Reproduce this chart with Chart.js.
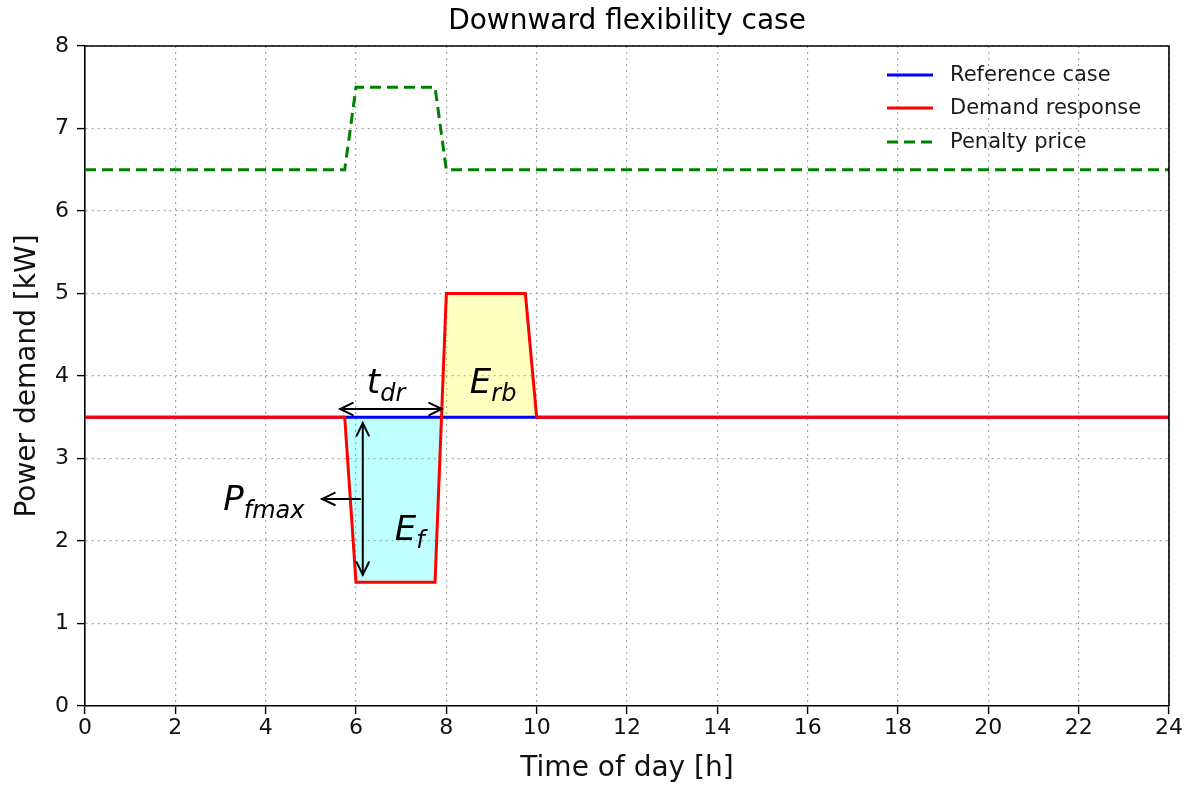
<!DOCTYPE html>
<html>
<head>
<meta charset="utf-8">
<title>Downward flexibility case</title>
<script src="https://cdn.jsdelivr.net/npm/chart.js@4.4.1/dist/chart.umd.min.js"></script>
<style>
    body { margin: 0; background: #ffffff; }
    #chartCanvas { display: block; }
</style>
</head>
<body>
<canvas id="chartCanvas" width="1186" height="786"></canvas>
<script>
// Time axis of the load profiles [h]
const hours = [0, 5.75, 6, 7.75, 8, 9.75, 10, 24];
// Baseline household demand [kW]
const referencePower = [3.5, 3.5, 3.5, 3.5, 3.5, 3.5, 3.5, 3.5];
// Demand after the downward activation and the rebound [kW]
const responsePower = [3.5, 3.5, 1.5, 1.5, 5, 5, 3.5, 3.5];
// Penalty price signal
const priceHours = [0, 5.75, 6, 7.75, 8, 24];
const penaltyPrice = [6.5, 6.5, 7.5, 7.5, 6.5, 6.5];

const seriesLabels = ['Reference case', 'Demand response', 'Penalty price'];
const xTickValues = [0, 2, 4, 6, 8, 10, 12, 14, 16, 18, 20, 22, 24];
const yTickValues = [0, 1, 2, 3, 4, 5, 6, 7, 8];

const FONT = '"DejaVu Sans", "Liberation Sans", sans-serif';

// Build {x, y} points from two arrays
function toPoints(xs, ys) {
    return xs.map((x, i) => ({ x: x, y: ys[i] }));
}

// Outline on the top and right edges of the plot area
const frameBox = {
    id: 'frameBox',
    afterDatasetsDraw(chart) {
        const { ctx, chartArea: a } = chart;
        ctx.save();
        ctx.strokeStyle = '#000';
        ctx.lineWidth = 1.6;
        ctx.beginPath();
        ctx.moveTo(a.left, a.top);
        ctx.lineTo(a.right, a.top);
        ctx.lineTo(a.right, a.bottom);
        ctx.stroke();
        ctx.restore();
    }
};

// Legend inside the upper right corner
const cornerLegend = {
    id: 'cornerLegend',
    afterDraw(chart) {
        const { ctx } = chart;
        const rows = [75, 108, 142];
        ctx.save();
        ctx.font = '21px ' + FONT;
        ctx.textBaseline = 'middle';
        ctx.textAlign = 'left';
        chart.data.datasets.forEach((ds, i) => {
            const y = rows[i];
            ctx.strokeStyle = ds.borderColor;
            ctx.lineWidth = 3;
            ctx.setLineDash(ds.borderDash || []);
            ctx.beginPath();
            ctx.moveTo(887, y);
            ctx.lineTo(933, y);
            ctx.stroke();
            ctx.setLineDash([]);
            ctx.fillStyle = '#1a1a1a';
            ctx.fillText(ds.label, 950, y + 1);
        });
        ctx.restore();
    }
};

// Arrow and label positions in data units
const tdrArrow = { x0: 5.65, x1: 7.9, y: 3.6 };
const pfArrow = { x: 6.15, y0: 3.43, y1: 1.59 };
const pfPointer = { x0: 6.09, x1: 5.25, y: 2.51 };
const mathLabels = [
    { x: 6.24, y: 3.79, main: 't', sub: 'dr' },
    { x: 8.52, y: 3.79, main: 'E', sub: 'rb' },
    { x: 6.86, y: 2.01, main: 'E', sub: 'f' },
    { x: 3.06, y: 2.38, main: 'P', sub: 'fmax' }
];

function arrowHead(ctx, x, y, angle) {
    const len = 14, spread = 0.45;
    ctx.beginPath();
    ctx.moveTo(x - len * Math.cos(angle - spread), y - len * Math.sin(angle - spread));
    ctx.lineTo(x, y);
    ctx.lineTo(x - len * Math.cos(angle + spread), y - len * Math.sin(angle + spread));
    ctx.stroke();
}

function arrow(ctx, x0, y0, x1, y1, both) {
    ctx.beginPath();
    ctx.moveTo(x0, y0);
    ctx.lineTo(x1, y1);
    ctx.stroke();
    const angle = Math.atan2(y1 - y0, x1 - x0);
    arrowHead(ctx, x1, y1, angle);
    if (both) {
        arrowHead(ctx, x0, y0, angle + Math.PI);
    }
}

const flexAnnotations = {
    id: 'flexAnnotations',
    afterDatasetsDraw(chart) {
        const { ctx, scales: { x, y } } = chart;
        ctx.save();
        ctx.strokeStyle = '#000';
        ctx.lineWidth = 2;
        ctx.lineCap = 'round';
        arrow(ctx, x.getPixelForValue(tdrArrow.x0), y.getPixelForValue(tdrArrow.y),
            x.getPixelForValue(tdrArrow.x1), y.getPixelForValue(tdrArrow.y), true);
        arrow(ctx, x.getPixelForValue(pfArrow.x), y.getPixelForValue(pfArrow.y0),
            x.getPixelForValue(pfArrow.x), y.getPixelForValue(pfArrow.y1), true);
        arrow(ctx, x.getPixelForValue(pfPointer.x0), y.getPixelForValue(pfPointer.y),
            x.getPixelForValue(pfPointer.x1), y.getPixelForValue(pfPointer.y), false);

        ctx.fillStyle = '#000';
        ctx.textAlign = 'left';
        ctx.textBaseline = 'alphabetic';
        mathLabels.forEach(lbl => {
            const px = x.getPixelForValue(lbl.x);
            const py = y.getPixelForValue(lbl.y);
            ctx.font = 'italic 34px ' + FONT;
            ctx.fillText(lbl.main, px, py);
            const w = ctx.measureText(lbl.main).width;
            ctx.font = 'italic 24px ' + FONT;
            ctx.fillText(lbl.sub, px + w, py + 8);
        });
        ctx.restore();
    }
};

const gridStyle = {
    color: '#a6a6a6',
    lineWidth: 1.2,
    tickColor: '#000',
    tickBorderDash: [],
    tickLength: 8,
    tickWidth: 1.4
};

// Axis line plus dotted grid lines
const borderStyle = { display: true, color: '#000', width: 1.6, dash: [2, 4] };

const ctx = document.getElementById('chartCanvas').getContext('2d');

const chart = new Chart(ctx, {
    type: 'line',
    data: {
        datasets: [
            {
                label: seriesLabels[0],
                data: toPoints(hours, referencePower),
                borderColor: '#0000ff',
                borderWidth: 3,
                pointRadius: 0,
                fill: false,
                order: 2
            },
            {
                label: seriesLabels[1],
                data: toPoints(hours, responsePower),
                borderColor: '#ff0000',
                borderWidth: 3,
                borderJoinStyle: 'miter',
                pointRadius: 0,
                fill: {
                    target: 0,
                    above: 'rgba(255, 255, 0, 0.25)',
                    below: 'rgba(0, 255, 255, 0.25)'
                },
                order: 1
            },
            {
                label: seriesLabels[2],
                data: toPoints(priceHours, penaltyPrice),
                borderColor: '#008000',
                borderWidth: 3,
                borderDash: [11, 6],
                pointRadius: 0,
                fill: false,
                order: 0
            }
        ]
    },
    options: {
        responsive: false,
        devicePixelRatio: 1,
        animation: false,
        layout: { padding: { left: 0, right: 17, top: 0, bottom: 0 } },
        plugins: {
            legend: { display: false },
            tooltip: { enabled: false },
            filler: { drawTime: 'beforeDatasetsDraw' },
            title: {
                display: true,
                fullSize: false,
                text: 'Downward flexibility case',
                color: '#000',
                font: { family: FONT, size: 28, weight: 'normal' },
                padding: { top: 5, bottom: 7.4 }
            }
        },
        scales: {
            x: {
                type: 'linear',
                min: 0,
                max: 24,
                afterBuildTicks: axis => { axis.ticks = xTickValues.map(v => ({ value: v })); },
                afterFit: axis => { axis.height = 80; },
                grid: gridStyle,
                border: borderStyle,
                ticks: {
                    color: '#111',
                    font: { family: FONT, size: 22 },
                    padding: 1,
                    maxRotation: 0,
                    autoSkip: false
                },
                title: {
                    display: true,
                    text: 'Time of day [h]',
                    color: '#111',
                    font: { family: FONT, size: 28 },
                    padding: { top: 0, bottom: 0 }
                }
            },
            y: {
                min: 0,
                max: 8,
                afterBuildTicks: axis => { axis.ticks = yTickValues.map(v => ({ value: v })); },
                afterFit: axis => { axis.width = 85; },
                grid: gridStyle,
                border: borderStyle,
                ticks: {
                    color: '#111',
                    font: { family: FONT, size: 22 },
                    padding: 8
                },
                title: {
                    display: true,
                    text: 'Power demand [kW]',
                    color: '#111',
                    font: { family: FONT, size: 28 },
                    padding: { top: 11, bottom: 0 }
                }
            }
        }
    },
    plugins: [frameBox, flexAnnotations, cornerLegend]
});
</script>
</body>
</html>
